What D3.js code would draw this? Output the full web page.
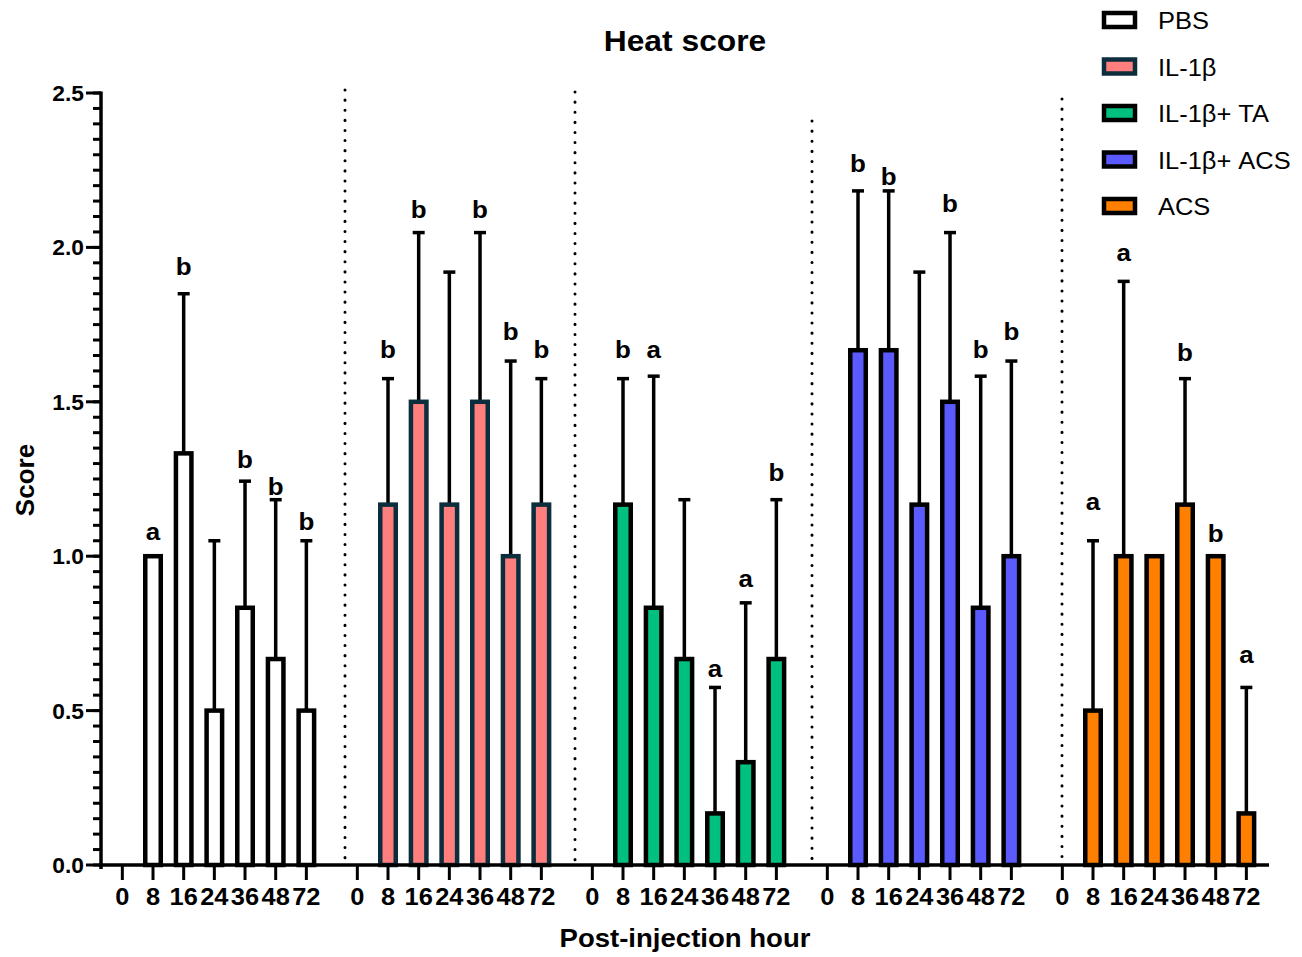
<!DOCTYPE html>
<html>
<head>
<meta charset="utf-8">
<script src="https://cdn.jsdelivr.net/npm/d3@7"></script>
<style>
  body { margin: 0; background: #fff; }
  text { font-family: "Liberation Sans", Arial, sans-serif; fill: #000; }
</style>
</head>
<body>
<div id="chart"></div>
<script>
// chart data
var groups = ["PBS", "IL-1\u03b2", "IL-1\u03b2+ TA", "IL-1\u03b2+ ACS", "ACS"];
var hours = ["0", "8", "16", "24", "36", "48", "72"];

var pbsMean   = [0, 1.0, 1.333, 0.5, 0.833, 0.667, 0.5];
var il1bMean  = [0, 1.167, 1.5, 1.167, 1.5, 1.0, 1.167];
var taMean    = [0, 1.167, 0.833, 0.667, 0.167, 0.333, 0.667];
var il1bAcsMean = [0, 1.667, 1.667, 1.167, 1.5, 0.833, 1.0];
var acsMean   = [0, 0.5, 1.0, 1.0, 1.167, 1.0, 0.167];

var pbsSD     = [0, 0, 0.517, 0.55, 0.41, 0.516, 0.55];
var il1bSD    = [0, 0.408, 0.548, 0.753, 0.548, 0.632, 0.408];
var taSD      = [0, 0.408, 0.75, 0.516, 0.408, 0.516, 0.516];
var il1bAcsSD = [0, 0.516, 0.516, 0.753, 0.548, 0.75, 0.632];
var acsSD     = [0, 0.55, 0.89, 0, 0.408, 0, 0.408];

// significance letters and the score level of their baseline
var pbsLetters     = ["", "a", "b", "", "b", "b", "b"];
var il1bLetters    = ["", "b", "b", "", "b", "b", "b"];
var taLetters      = ["", "b", "a", "", "a", "a", "b"];
var il1bAcsLetters = ["", "b", "b", "", "b", "b", "b"];
var acsLetters     = ["", "a", "a", "", "b", "b", "a"];

var pbsLetterAt     = [0, 1.052, 1.911, 0, 1.286, 1.198, 1.085];
var il1bLetterAt    = [0, 1.642, 2.095, 0, 2.095, 1.70, 1.642];
var taLetterAt      = [0, 1.642, 1.642, 0, 0.609, 0.900, 1.243];
var il1bAcsLetterAt = [0, 2.244, 2.202, 0, 2.115, 1.642, 1.70];
var acsLetterAt     = [0, 1.150, 1.956, 0, 1.632, 1.046, 0.654];

var yTicks = [0, 0.5, 1.0, 1.5, 2.0, 2.5];

var fills   = ["#ffffff", "#ff7f7f", "#00bf7f", "#5a5aff", "#ff8000"];
var strokes = ["#000000", "#0b2d3c", "#000000", "#000000", "#000000"];

var means   = [pbsMean, il1bMean, taMean, il1bAcsMean, acsMean];
var sds     = [pbsSD, il1bSD, taSD, il1bAcsSD, acsSD];
var letters = [pbsLetters, il1bLetters, taLetters, il1bAcsLetters, acsLetters];
var letterAt = [pbsLetterAt, il1bLetterAt, taLetterAt, il1bAcsLetterAt, acsLetterAt];

//svg size
var svgWidth = 1302;
var svgHeight = 957;
var sx = 1.06; // text in the source is a little wide

var svg = d3.select("#chart").append("svg")
    .attr("width", svgWidth)
    .attr("height", svgHeight);

//scales
var yScale = d3.scaleLinear().domain([0, 2.5]).range([865, 93]);
var xOuter = d3.scaleBand().domain(groups).range([107, 1261.7]).paddingInner(0.0864);
var xInner = d3.scaleBand().domain(hours).range([0, xOuter.bandwidth()]);

function slotX(g, h) {
    return xOuter(g) + xInner(h) + xInner.bandwidth() / 2;
}

//stretched text helper
function addText(parent, x, y, str, size, weight, anchor) {
    return parent.append("text")
        .attr("transform", `translate(${x},${y}) scale(${sx},1)`)
        .attr("text-anchor", anchor || "middle")
        .style("font-size", size + "px")
        .style("font-weight", weight || "normal")
        .text(str);
}

//flat records
var rows = [];
groups.forEach(function(g, gi) {
    hours.forEach(function(h, hi) {
        rows.push({
            group: g, gi: gi, hour: h,
            mean: means[gi][hi], sd: sds[gi][hi],
            letter: letters[gi][hi], letterAt: letterAt[gi][hi]
        });
    });
});

//dotted separators between groups
var sepX = [345, 575, 812, 1062];
var sepTop = [90, 92, 121, 99];
sepX.forEach(function(x, i) {
    svg.append("line")
        .attr("x1", x).attr("x2", x)
        .attr("y1", sepTop[i]).attr("y2", 863)
        .attr("stroke", "#000")
        .attr("stroke-width", 3)
        .attr("stroke-linecap", "round")
        .attr("stroke-dasharray", "0.1 10");
});

//error bars
var errRows = rows.filter(d => d.mean > 0 && d.sd > 0);
svg.selectAll(".err").data(errRows).enter().append("line")
    .attr("x1", d => slotX(d.group, d.hour))
    .attr("x2", d => slotX(d.group, d.hour))
    .attr("y1", d => yScale(d.mean))
    .attr("y2", d => yScale(d.mean + d.sd))
    .attr("stroke", "#000").attr("stroke-width", 3.5);

svg.selectAll(".cap").data(errRows).enter().append("line")
    .attr("x1", d => slotX(d.group, d.hour) - 6)
    .attr("x2", d => slotX(d.group, d.hour) + 6)
    .attr("y1", d => yScale(d.mean + d.sd))
    .attr("y2", d => yScale(d.mean + d.sd))
    .attr("stroke", "#000").attr("stroke-width", 3.5);

//bars
var barW = 15.5;
svg.selectAll(".bar").data(rows.filter(d => d.mean > 0)).enter().append("rect")
    .attr("x", d => slotX(d.group, d.hour) - barW / 2)
    .attr("y", d => yScale(d.mean))
    .attr("width", barW)
    .attr("height", d => yScale(0) - yScale(d.mean))
    .attr("fill", d => fills[d.gi])
    .attr("stroke", d => strokes[d.gi])
    .attr("stroke-width", 4.5);

//letters
rows.filter(d => d.letter !== "").forEach(function(d) {
    addText(svg, slotX(d.group, d.hour), yScale(d.letterAt), d.letter, 24.5, "bold");
});

//y axis
var yAxisG = svg.append("g");
var minor = d3.range(0, 2.5001, 0.05);
yAxisG.selectAll(".ymin").data(minor).enter().append("line")
    .attr("x1", 93).attr("x2", 101)
    .attr("y1", d => yScale(d)).attr("y2", d => yScale(d))
    .attr("stroke", "#000").attr("stroke-width", 3);
yAxisG.selectAll(".ymaj").data(yTicks).enter().append("line")
    .attr("x1", 86).attr("x2", 101)
    .attr("y1", d => yScale(d)).attr("y2", d => yScale(d))
    .attr("stroke", "#000").attr("stroke-width", 3);
yTicks.forEach(function(t) {
    addText(yAxisG, 84, yScale(t) + 8, d3.format(".1f")(t), 21.5, "bold", "end");
});
yAxisG.append("line")
    .attr("x1", 101).attr("x2", 101)
    .attr("y1", yScale(2.5) - 1.5).attr("y2", 869)
    .attr("stroke", "#000").attr("stroke-width", 3.5);

//x axis
var xAxisG = svg.append("g");
xAxisG.append("line")
    .attr("x1", 99).attr("x2", 1269)
    .attr("y1", 865).attr("y2", 865)
    .attr("stroke", "#000").attr("stroke-width", 3.5);
xAxisG.selectAll(".xtick").data(rows).enter().append("line")
    .attr("x1", d => slotX(d.group, d.hour))
    .attr("x2", d => slotX(d.group, d.hour))
    .attr("y1", 865).attr("y2", 880)
    .attr("stroke", "#000").attr("stroke-width", 3);
rows.forEach(function(d) {
    addText(xAxisG, slotX(d.group, d.hour), 905, d.hour, 24, "bold");
});

//titles
addText(svg, 685, 51, "Heat score", 30, "bold");
addText(svg, 685, 947, "Post-injection hour", 26, "bold");
svg.append("text")
    .attr("transform", "translate(34,480) rotate(-90)")
    .attr("text-anchor", "middle")
    .style("font-size", "26px")
    .style("font-weight", "bold")
    .text("Score");

//legend
var legend = svg.append("g");
groups.forEach(function(g, i) {
    var cy = 20 + i * 46.5;
    legend.append("rect")
        .attr("x", 1104).attr("y", cy - 7)
        .attr("width", 31).attr("height", 14)
        .attr("fill", fills[i])
        .attr("stroke", strokes[i])
        .attr("stroke-width", 4.5);
    addText(legend, 1158, cy + 9, g, 24, "normal", "start");
});
</script>
</body>
</html>
